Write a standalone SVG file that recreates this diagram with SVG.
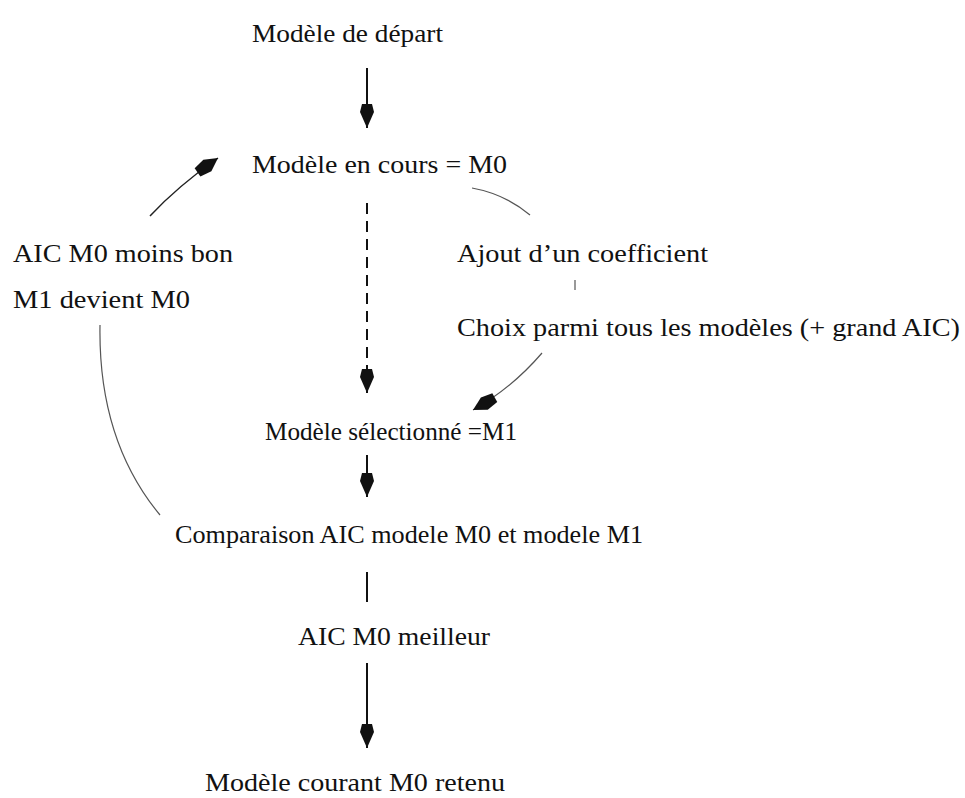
<svg xmlns="http://www.w3.org/2000/svg" width="965" height="798" viewBox="0 0 965 798">
<style>
.t{font-size:26px;fill:#111;}
.main{stroke:#111;stroke-width:2;fill:none;}
.dash{stroke:#111;stroke-width:2;fill:none;stroke-dasharray:11 7;}
.thin{stroke:#555;stroke-width:1.2;fill:none;}
.mid{stroke:#222;stroke-width:1.5;fill:none;}
</style>
<defs>
<marker id="ah" markerUnits="userSpaceOnUse" markerWidth="30" markerHeight="18" viewBox="-26 -9 28 18" refX="0" refY="0" orient="auto" overflow="visible">
<path d="M0,0 L-16,-7 L-24,-5 L-24,5 L-16,7 Z" fill="#111" stroke="none"/>
</marker>
<marker id="ahs" markerUnits="userSpaceOnUse" markerWidth="30" markerHeight="18" viewBox="-26 -9 28 18" refX="0" refY="0" orient="auto" overflow="visible">
<path d="M0,0 L-13,-7 L-25,-5 L-25,5 L-13,7 Z" fill="#111" stroke="none"/>
</marker>
</defs>
<g id="connectors">
<line class="main" x1="367" y1="68" x2="367" y2="128" marker-end="url(#ah)"/>
<line class="dash" x1="367" y1="203" x2="367" y2="375"/>
<line class="main" x1="367" y1="372" x2="367" y2="393" marker-end="url(#ah)"/>
<line class="main" x1="367" y1="455" x2="367" y2="497" marker-end="url(#ah)"/>
<line class="main" x1="367" y1="572" x2="367" y2="602"/>
<line class="main" x1="367" y1="663" x2="367" y2="748" marker-end="url(#ah)"/>
<path class="mid" d="M150,216 Q178,186 218,158" marker-end="url(#ahs)"/>
<path class="thin" d="M472,188 Q505,194 530,215"/>
<line class="thin" x1="575" y1="280" x2="575" y2="290"/>
<path class="thin" d="M542,353 Q512,388 473,410" marker-end="url(#ahs)"/>
<path class="thin" d="M100,325 Q98,440 160,515"/>
</g>
<g font-family="Liberation Serif, DejaVu Serif, serif">
<g id="n-depart"><text class="t" x="252" y="42" textLength="191" lengthAdjust="spacingAndGlyphs">Modèle de départ</text></g>
<g id="n-encours"><text class="t" x="252" y="173" textLength="255" lengthAdjust="spacingAndGlyphs">Modèle en cours = M0</text></g>
<g id="n-moinsbon"><text class="t" x="13" y="262" textLength="220" lengthAdjust="spacingAndGlyphs">AIC M0 moins bon</text><text class="t" x="13" y="308" textLength="177" lengthAdjust="spacingAndGlyphs">M1 devient M0</text></g>
<g id="n-ajout"><text class="t" x="457" y="262" textLength="251" lengthAdjust="spacingAndGlyphs">Ajout d’un coefficient</text></g>
<g id="n-choix"><text class="t" x="457" y="336" textLength="503" lengthAdjust="spacingAndGlyphs">Choix parmi tous les modèles (+ grand AIC)</text></g>
<g id="n-selection"><text class="t" x="265" y="440" textLength="252" lengthAdjust="spacingAndGlyphs">Modèle sélectionné =M1</text></g>
<g id="n-comparaison"><text class="t" x="175" y="543" textLength="468" lengthAdjust="spacingAndGlyphs">Comparaison AIC modele M0 et modele M1</text></g>
<g id="n-meilleur"><text class="t" x="298" y="645" textLength="192" lengthAdjust="spacingAndGlyphs">AIC M0 meilleur</text></g>
<g id="n-retenu"><text class="t" x="205" y="791" textLength="300" lengthAdjust="spacingAndGlyphs">Modèle courant M0 retenu</text></g>
</g>
</svg>
